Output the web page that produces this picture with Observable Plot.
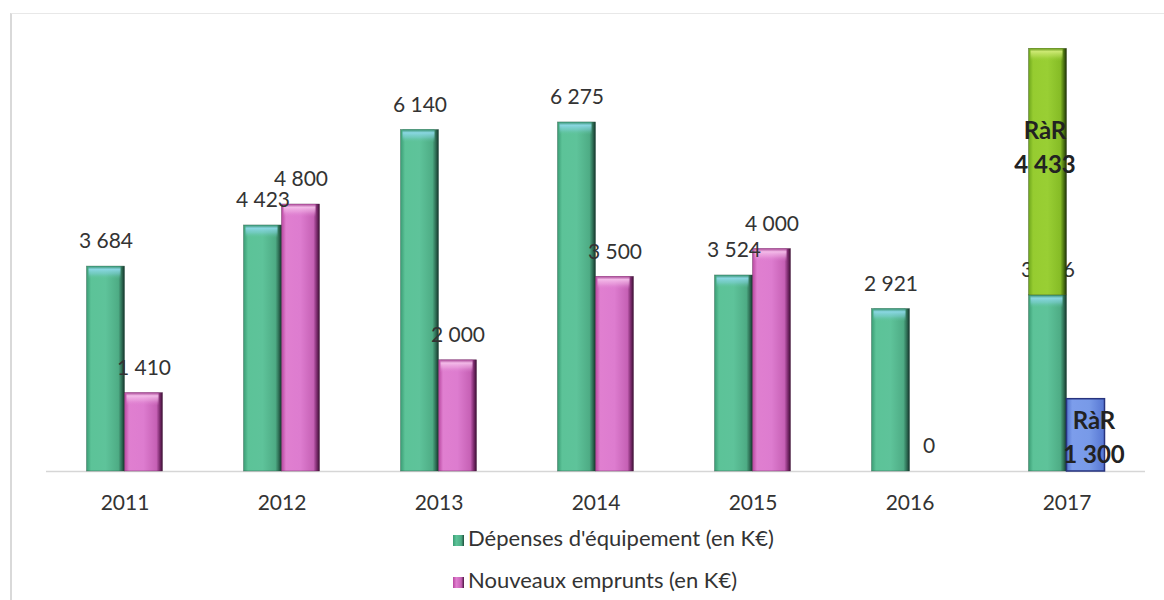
<!DOCTYPE html>
<html>
<head>
<meta charset="utf-8">
<script src="https://cdn.jsdelivr.net/npm/d3@7"></script>
<script src="https://cdn.jsdelivr.net/npm/@observablehq/plot@0.6"></script>
<style>
  html, body { margin: 0; padding: 0; background: #fff; }
  #wrap { position: relative; width: 1164px; height: 600px; overflow: hidden; font-family: Lato, "Open Sans", sans-serif; }
  #frame { position: absolute; left: 10px; top: 13px; width: 1160px; height: 600px;
           border-left: 2px solid #d9d9d9; border-top: 1px solid #e8e8e8; box-sizing: border-box; pointer-events: none; }
  #chart { position: absolute; left: 0; top: 0; }
  #legend { position: absolute; left: 453px; top: 520px; color: #333; font-size: 22px; }
  .item { height: 36px; line-height: 36px; margin-bottom: 6px; white-space: nowrap; }
  .sw { display: inline-block; width: 11px; height: 11px; margin-right: 4px; vertical-align: 0px; }
</style>
</head>
<body>
<svg width="0" height="0" style="position:absolute">
  <defs>
    <linearGradient id="gDep" x1="0" x2="1" y1="0" y2="0">
      <stop offset="0" stop-color="#3a9c74"/>
      <stop offset="0.12" stop-color="#5cc398"/>
      <stop offset="0.5" stop-color="#5ec39a"/>
      <stop offset="0.84" stop-color="#4eac85"/>
      <stop offset="0.93" stop-color="#2e6d54"/>
      <stop offset="1" stop-color="#14322a"/>
    </linearGradient>
    <linearGradient id="gEmp" x1="0" x2="1" y1="0" y2="0">
      <stop offset="0" stop-color="#b8479f"/>
      <stop offset="0.12" stop-color="#e07fd0"/>
      <stop offset="0.5" stop-color="#dd7ccf"/>
      <stop offset="0.84" stop-color="#c661b5"/>
      <stop offset="0.93" stop-color="#7a2a6c"/>
      <stop offset="1" stop-color="#3a1032"/>
    </linearGradient>
    <linearGradient id="gRarDep" x1="0" x2="1" y1="0" y2="0">
      <stop offset="0" stop-color="#6da51c"/>
      <stop offset="0.12" stop-color="#96cc30"/>
      <stop offset="0.5" stop-color="#99cf34"/>
      <stop offset="0.84" stop-color="#86bc26"/>
      <stop offset="0.93" stop-color="#4b7210"/>
      <stop offset="1" stop-color="#1c2e08"/>
    </linearGradient>
    <linearGradient id="gRarEmp" x1="0" x2="1" y1="0" y2="0">
      <stop offset="0" stop-color="#5576cf"/>
      <stop offset="0.15" stop-color="#7c9deb"/>
      <stop offset="0.6" stop-color="#789ae8"/>
      <stop offset="1" stop-color="#5676d2"/>
    </linearGradient>
    <linearGradient id="hDep" x1="0" x2="0" y1="0" y2="1">
      <stop offset="0" stop-color="#2f8a66" stop-opacity="0.9"/>
      <stop offset="0.25" stop-color="#8fd9ea" stop-opacity="0.9"/>
      <stop offset="0.6" stop-color="#84d2e0" stop-opacity="0.5"/>
      <stop offset="1" stop-color="#5ec39a" stop-opacity="0"/>
    </linearGradient>
    <linearGradient id="hEmp" x1="0" x2="0" y1="0" y2="1">
      <stop offset="0" stop-color="#a23e8e" stop-opacity="0.9"/>
      <stop offset="0.25" stop-color="#f6c2ec" stop-opacity="0.9"/>
      <stop offset="0.6" stop-color="#f0b0e4" stop-opacity="0.5"/>
      <stop offset="1" stop-color="#dd7ccf" stop-opacity="0"/>
    </linearGradient>
    <linearGradient id="hRarDep" x1="0" x2="0" y1="0" y2="1">
      <stop offset="0" stop-color="#5e8f14" stop-opacity="0.9"/>
      <stop offset="0.25" stop-color="#d2ec7a" stop-opacity="0.9"/>
      <stop offset="0.6" stop-color="#c4e468" stop-opacity="0.5"/>
      <stop offset="1" stop-color="#99cf34" stop-opacity="0"/>
    </linearGradient>
  </defs>
</svg>
<div id="wrap">
  <div id="chart"></div>
  <div id="frame"></div>
  <div id="legend"></div>
</div>
<script>
// ---- data ----
const years = ["2011", "2012", "2013", "2014", "2015", "2016", "2017"];
const depenses = [3684, 4423, 6140, 6275, 3524, 2921, 3166];
const emprunts = [1410, 4800, 2000, 3500, 4000, 0, null];
const rarYear = "2017";
const rarDepenses = 4433;
const rarEmprunts = 1300;
const rarLabel = "RàR";
const seriesLabels = ["Dépenses d'équipement (en K€)", "Nouveaux emprunts (en K€)"];
const slots = ["dep", "emp"];

// ---- build rows ----
const rows = [];
years.forEach((y, i) => {
  rows.push({year: y, slot: "dep", series: "dep", value: depenses[i], y1: 0, y2: depenses[i]});
  if (emprunts[i] != null) rows.push({year: y, slot: "emp", series: "emp", value: emprunts[i], y1: 0, y2: emprunts[i]});
});
const dep2017 = depenses[years.indexOf(rarYear)];
const rarRows = [
  {year: rarYear, slot: "dep", series: "rarDep", value: rarDepenses, y1: dep2017, y2: dep2017 + rarDepenses},
  {year: rarYear, slot: "emp", series: "rarEmp", value: rarEmprunts, y1: 0, y2: rarEmprunts}
];

const fr = d3.formatLocale({decimal: ",", thousands: " ", grouping: [3], currency: ["", " €"]});
const fmt = fr.format(",");

const base = {fx: "year", x: "slot", y1: "y1", y2: "y2"};
const hi = (data, fill) => Plot.barY(data.filter(d => d.value > 0), {
  fx: "year", x: "slot", y1: "y2", y2: "y2", insetBottom: -13, insetLeft: 2, insetRight: 4, fill
});
const rarText = (series, dx, dy) => Plot.text(rarRows.filter(d => d.series === series), {
  fx: "year", x: "slot", y: d => (d.y1 + d.y2) / 2,
  text: d => rarLabel + "\n" + fmt(d.value),
  dx, dy, lineHeight: 1.4, fontSize: 24, fontWeight: "bold", fill: "#222"
});

const chart = Plot.plot({
  width: 1164,
  height: 520,
  marginTop: 26,
  marginBottom: 49,
  marginLeft: 45.5,
  marginRight: 19.5,
  style: {fontFamily: "Lato, 'Open Sans', sans-serif", fontSize: "21px", color: "#333", background: "transparent"},
  fx: {domain: years, padding: 0, label: null, tickSize: 0, tickPadding: 24},
  x: {domain: slots, paddingInner: 0, paddingOuter: 1.04, axis: null},
  y: {domain: [0, 8000], axis: null},
  marks: [
    Plot.ruleY([0], {stroke: "#d6d6d6", strokeWidth: 1.5}),
    Plot.barY(rows.filter(d => d.series === "dep"), {...base, fill: "url(#gDep)", stroke: "#1e4d3b", strokeWidth: 0.6, strokeOpacity: 0.6}),
    Plot.barY(rows.filter(d => d.series === "emp"), {...base, fill: "url(#gEmp)", stroke: "#4a1540", strokeWidth: 0.6, strokeOpacity: 0.6}),
    hi(rows.filter(d => d.series === "dep"), "url(#hDep)"),
    hi(rows.filter(d => d.series === "emp"), "url(#hEmp)"),
    Plot.text(rows, {fx: "year", x: "slot", y: "y2", text: d => fmt(d.value), dy: -25, fontSize: 21, fill: "#333"}),
    Plot.barY(rarRows.filter(d => d.series === "rarDep"), {...base, fill: "url(#gRarDep)", stroke: "#2a3f0c", strokeWidth: 0.6, strokeOpacity: 0.6}),
    hi(rarRows.filter(d => d.series === "rarDep"), "url(#hRarDep)"),
    Plot.barY(rarRows.filter(d => d.series === "rarEmp"), {...base, fill: "url(#gRarEmp)", stroke: "#27337e", strokeWidth: 1.5}),
    rarText("rarDep", -3, -27),
    rarText("rarEmp", 8, 0)
  ]
});
document.getElementById("chart").appendChild(chart);

// ---- legend ----
const swatches = [
  "linear-gradient(90deg, #3a9c74, #5cc398 30%, #4eac85 75%, #1e4d3b)",
  "linear-gradient(90deg, #b8479f, #e07fd0 30%, #c661b5 75%, #4a1540)"
];
const legend = document.getElementById("legend");
seriesLabels.forEach((label, i) => {
  const item = document.createElement("div");
  item.className = "item";
  const sw = document.createElement("span");
  sw.className = "sw";
  sw.style.background = swatches[i];
  item.appendChild(sw);
  item.appendChild(document.createTextNode(label));
  legend.appendChild(item);
});
</script>
</body>
</html>
